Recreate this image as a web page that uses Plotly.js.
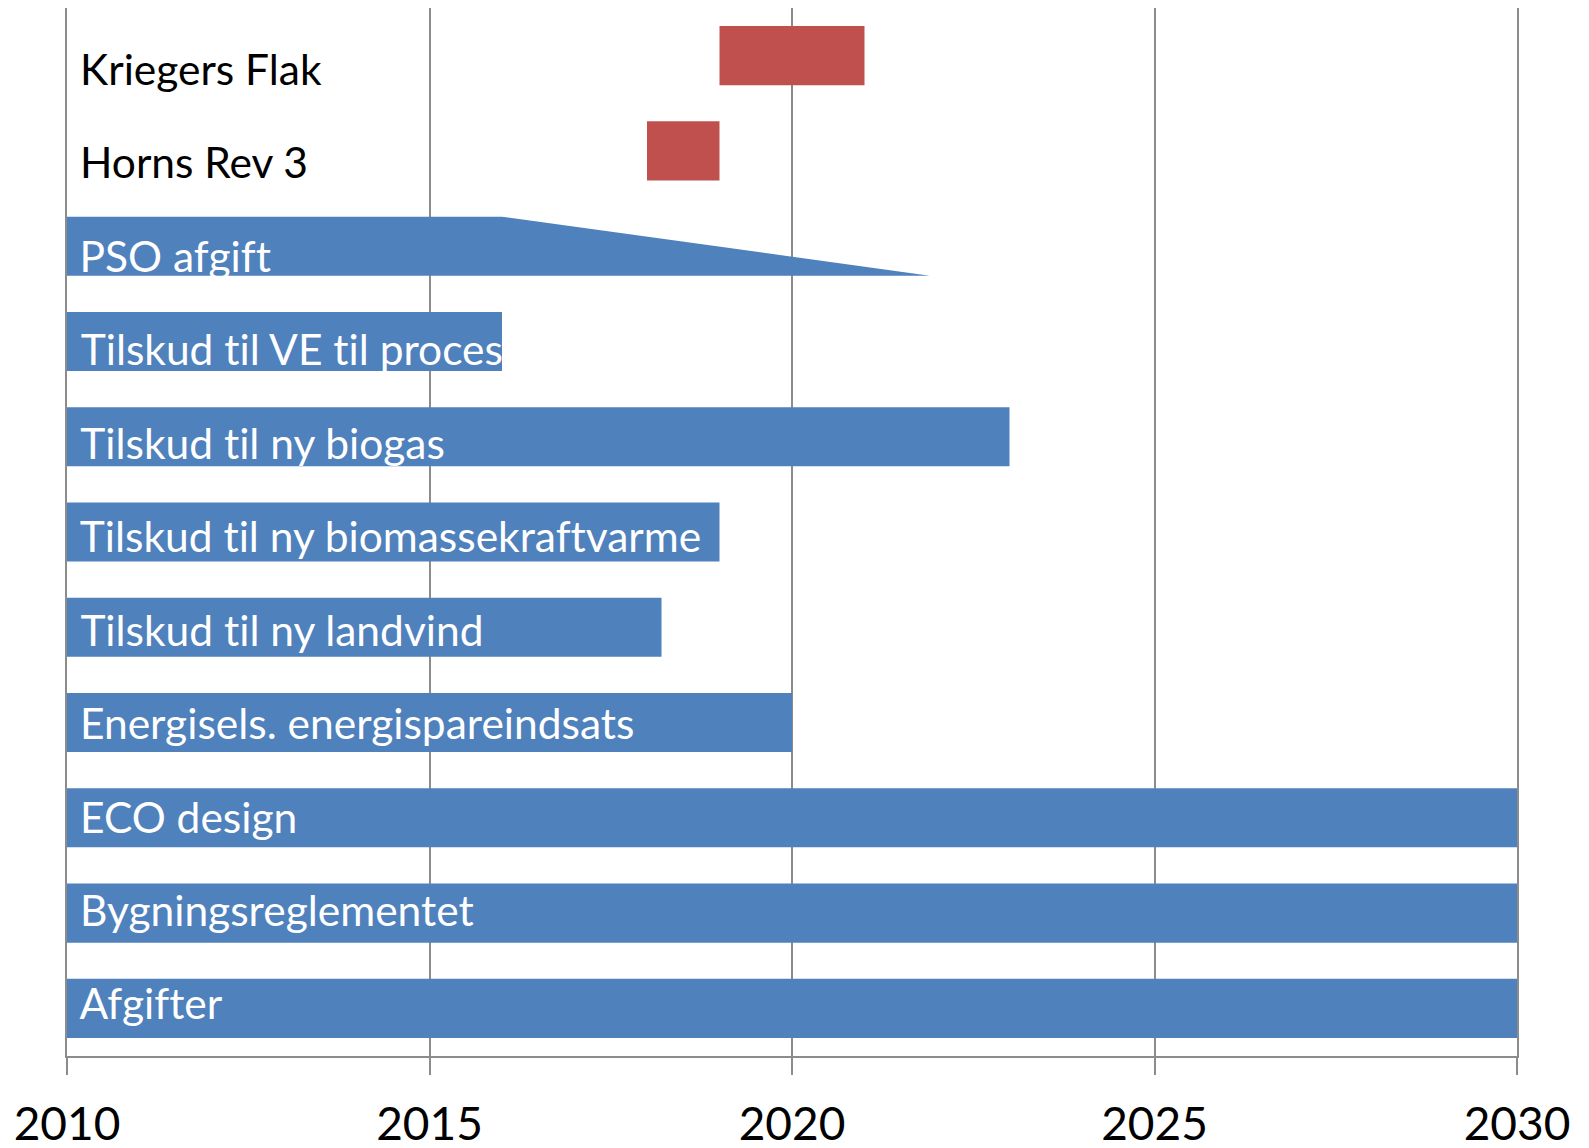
<!DOCTYPE html>
<html>
<head>
<meta charset="utf-8">
<script src="https://cdn.plot.ly/plotly-3.0.1.min.js"></script>
<style>
  html,body{margin:0;padding:0;background:#fff;}
  #chart{width:1589px;height:1148px;}
  #chart text{font-variant-ligatures:none !important;font-feature-settings:"liga" 0,"clig" 0,"dlig" 0 !important;}
</style>
</head>
<body>
<div id="chart"></div>
<script>
(function(){
  // rows, top to bottom
  const tasks = [
    "Kriegers Flak",
    "Horns Rev 3",
    "PSO afgift",
    "Tilskud til VE til proces",
    "Tilskud til ny biogas",
    "Tilskud til ny biomassekraftvarme",
    "Tilskud til ny landvind",
    "Energisels. energispareindsats",
    "ECO design",
    "Bygningsreglementet",
    "Afgifter"
  ];
  const startYear = [2019, 2018, 2010, 2010, 2010, 2010, 2010, 2010, 2010, 2010, 2010];
  const endYear   = [2021, 2019, 2016, 2016, 2023, 2019, 2018.2, 2020, 2030, 2030, 2030];
  const kind      = ["udbud","udbud","ordning","ordning","ordning","ordning","ordning","ordning","ordning","ordning","ordning"];
  // PSO afgift is phased out: full until 2016, tapering to nothing
  const psoTask = "PSO afgift";
  const psoTaperEnd = 2021.9;
  const xTicks = [2010, 2015, 2020, 2025, 2030];

  const BLUE = "#4F81BD", RED = "#C0504D", GRID = "#8C8C8C";
  const BARW = 0.62;
  const FONT = "Lato, 'Open Sans', sans-serif";

  const n = tasks.length;
  const rowOf = i => n - 1 - i;

  const bars = {
    type:"bar", orientation:"h",
    y:tasks.map((t,i)=>rowOf(i)),
    base:startYear,
    x:endYear.map((e,i)=>e - startYear[i]),
    width:BARW,
    marker:{color:kind.map(k=>k==="udbud"?RED:BLUE), line:{width:0}},
    hoverinfo:"skip", showlegend:false
  };

  const pi = tasks.indexOf(psoTask);
  const pr = rowOf(pi), ps = endYear[pi];
  const taper = {
    type:"scatter", mode:"lines", fill:"toself",
    x:[ps, ps, psoTaperEnd, ps],
    y:[pr+BARW/2, pr-BARW/2, pr-BARW/2, pr+BARW/2],
    fillcolor:BLUE, line:{width:0, color:BLUE},
    hoverinfo:"skip", showlegend:false
  };

  const ann = tasks.map((t,i)=>({
    text:t, x:2010, xref:"x", y:rowOf(i), yref:"y2",
    xanchor:"left", yanchor:"middle", xshift:11, showarrow:false,
    font:{family:FONT, size:42.5, color:kind[i]==="udbud"?"#000":"#fff"}
  }));

  const layout = {
    width:1589, height:1148,
    paper_bgcolor:"#fff", plot_bgcolor:"#fff",
    margin:{l:67, r:72, t:8, b:92},
    font:{family:FONT, color:"#000"},
    xaxis:{
      range:[2010,2030], tickvals:xTicks, ticktext:xTicks.map(String),
      showgrid:true, gridcolor:GRID, gridwidth:2, zeroline:false,
      showline:true, linecolor:GRID, linewidth:2,
      ticks:"outside", ticklen:17, tickcolor:GRID, tickwidth:2,
      ticklabelstandoff:10,
      tickfont:{family:FONT, size:46, color:"#000"}
    },
    yaxis:{range:[-0.5, n-0.5], showgrid:false, zeroline:false, showticklabels:false, ticks:"",
      showline:true, mirror:true, linecolor:GRID, linewidth:2},
    yaxis2:{range:[-0.567, 10.642], overlaying:"y", showgrid:false, zeroline:false, showticklabels:false, ticks:""},
    annotations:ann
  };

  Plotly.newPlot("chart", [bars, taper], layout, {displayModeBar:false, staticPlot:true});
})();
</script>
</body>
</html>
